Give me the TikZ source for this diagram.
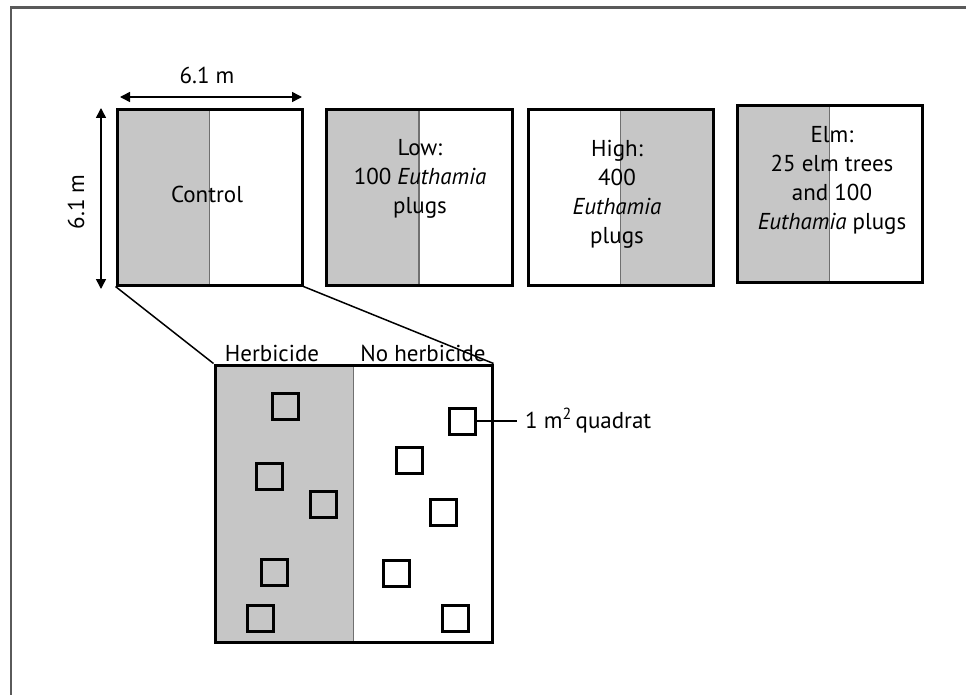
\documentclass[tikz,border=0pt]{standalone}
\usepackage{fontspec}
\setmainfont{PT Sans}
\usetikzlibrary{arrows.meta}
\definecolor{plotgray}{HTML}{C6C6C6}
\definecolor{framegray}{HTML}{5A5A5A}
\definecolor{divgray}{HTML}{707070}
\begin{document}
\begin{tikzpicture}[x=1pt,y=-1pt,
  every node/.style={font=\fontsize{23}{29}\selectfont, inner sep=0pt},
  plotbox/.style={draw=black, line width=3pt, minimum width=#1, minimum height=175pt, anchor=center},
  grayleft/.style={path picture={\fill[plotgray] (path picture bounding box.north west) rectangle (path picture bounding box.south);
      \draw[divgray, line width=1.5pt] (path picture bounding box.north) -- (path picture bounding box.south);}},
  grayright/.style={path picture={\fill[plotgray] (path picture bounding box.north) rectangle (path picture bounding box.south east);
      \draw[divgray, line width=1.5pt] (path picture bounding box.north) -- (path picture bounding box.south);}},
  quad/.style={draw=black, line width=3pt, minimum width=26pt, minimum height=26pt},
  dimarrow/.style={line width=1.5pt, {Triangle[length=10pt,width=10pt]}-{Triangle[length=10pt,width=10pt]}},
  link/.style={line width=1.5pt}
]
\useasboundingbox (0,0) rectangle (966,695);
% outer frame
\coordinate (fbl) at (11,696);
\coordinate (ftl) at (11,7.5);
\coordinate (ftr) at (967,7.5);
\draw[framegray, line width=2.5pt] (fbl) -- (ftl) -- (ftr);

% plots
\node[plotbox=185pt, grayleft] (ctrl) at (209.5,197.5) {};
\node[plotbox=186pt, grayleft] (low) at (419,197.5) {};
\node[plotbox=185pt, grayright] (high) at (620.5,197.5) {};
\node[plotbox=185pt, grayleft, minimum height=176pt] (elm) at (829.5,194) {};

\node[align=center] (tctrl) at (207,194) {Control};
\node[align=center] (tlow) at (420,179) {Low:\\100 \textit{Euthamia}\\plugs};
\node[align=center] (thigh) at (617,194) {High:\\400\\\textit{Euthamia}\\plugs};
\node[align=center] (telm) at (832,180) {Elm:\\25 elm trees\\and 100\\\textit{Euthamia} plugs};

% dimension arrows
\coordinate (ha) at (120,97);
\coordinate (hb) at (302,97);
\draw[dimarrow] (ha) -- (hb);
\node[anchor=base] (hlab) at (207,84) {6.1 m};
\coordinate (va) at (101,108);
\coordinate (vb) at (101,289);
\draw[dimarrow] (va) -- (vb);
\node[anchor=base, rotate=90] (vlab) at (84,202) {6.1 m};

% enlarged plot
\node[plotbox=277pt, minimum height=277pt, grayleft] (bot) at (353.5,503.5) {};
\draw[link] (ctrl.south west) -- (bot.north west);
\draw[link] (ctrl.south east) -- (bot.north east);
\node[anchor=base] (herb) at (272,361) {Herbicide};
\node[anchor=base] (noherb) at (423,361) {No herbicide};

% quadrats
\node[quad] (q1) at (285,406) {};
\node[quad] (q2) at (269,476) {};
\node[quad] (q3) at (323,504) {};
\node[quad] (q4) at (274,572) {};
\node[quad] (q5) at (260,618) {};
\node[quad] (q6) at (462,421) {};
\node[quad] (q7) at (409,460) {};
\node[quad] (q8) at (443,512) {};
\node[quad] (q9) at (396,573) {};
\node[quad] (q10) at (455,618) {};

\coordinate (qend) at (517,421);
\draw[link, line width=2pt] (q6.east) -- (qend);
\node[anchor=west] (qlab) at (525,421) {1 m\textsuperscript{2}\,quadrat};
\end{tikzpicture}
\end{document}
